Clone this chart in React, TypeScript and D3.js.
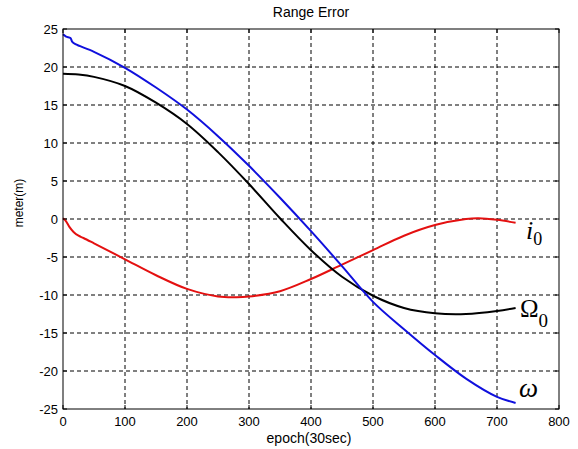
import React from "react";
import * as d3 from "d3";

const xTicks = [0, 100, 200, 300, 400, 500, 600, 700, 800];
const yTicks = [25, 20, 15, 10, 5, 0, -5, -10, -15, -20, -25];

const omegaEpoch = [0, 5, 12, 15, 20, 50, 100, 150, 200, 250, 300, 350, 400, 450, 500, 550, 600, 650, 700, 730];
const omegaVal = [24.3, 24.0, 23.8, 23.3, 23.0, 22.0, 19.9, 17.3, 14.4, 10.9, 7.0, 2.8, -1.6, -6.2, -10.9, -14.5, -17.9, -21.0, -23.4, -24.2];

const bigOmegaEpoch = [0, 25, 50, 100, 150, 200, 250, 300, 350, 400, 450, 500, 550, 600, 650, 700, 730];
const bigOmegaVal = [19.1, 19.0, 18.7, 17.5, 15.3, 12.5, 8.8, 4.6, 0.1, -4.1, -7.6, -10.1, -11.7, -12.4, -12.5, -12.1, -11.7];

const incEpoch = [0, 5, 10, 17, 25, 33, 50, 100, 150, 200, 250, 280, 300, 350, 400, 450, 500, 550, 600, 650, 670, 700, 730];
const incVal = [0.1, -0.3, -1.0, -1.7, -2.2, -2.5, -3.2, -5.3, -7.4, -9.2, -10.2, -10.3, -10.2, -9.5, -7.9, -6.0, -4.1, -2.2, -0.8, 0.0, 0.1, -0.1, -0.5];

const W = 578, H = 449;
const L = 63, R = 559, T = 29, B = 409;
const SANS = "Arial, 'Liberation Sans', sans-serif";
const SERIF = "'Liberation Serif', 'Times New Roman', serif";

export default function App() {
  const x = d3.scaleLinear().domain([0, 800]).range([L, R]);
  const y = d3.scaleLinear().domain([-25, 25]).range([B, T]);
  const line = (ep: number[], v: number[]) =>
    d3.line<number>().x((_, i) => x(ep[i])).y((d) => y(d)).curve(d3.curveCatmullRom.alpha(0.5))(v) || "";

  const series = [
    { ep: incEpoch, v: incVal, c: "#e41010" },
    { ep: bigOmegaEpoch, v: bigOmegaVal, c: "#000000" },
    { ep: omegaEpoch, v: omegaVal, c: "#1010dd" },
  ];

  return (
    <svg width={W} height={H} style={{ position: "absolute", left: 0, top: 0, background: "#fff" }}>
      <rect x={0} y={0} width={W} height={H} fill="#fff" />
      {xTicks.slice(1, -1).map((t) => (
        <line key={"gx" + t} x1={x(t)} x2={x(t)} y1={T} y2={B} stroke="#000" strokeWidth={1} strokeDasharray="4,3" />
      ))}
      {yTicks.slice(1, -1).map((t) => (
        <line key={"gy" + t} x1={L} x2={R} y1={y(t)} y2={y(t)} stroke="#000" strokeWidth={1} strokeDasharray="4,3" />
      ))}
      {series.map((s, i) => (
        <path key={i} d={line(s.ep, s.v)} fill="none" stroke={s.c} strokeWidth={2} />
      ))}
      <rect x={L} y={T} width={R - L} height={B - T} fill="none" stroke="#000" strokeWidth={1} />
      {xTicks.map((t) => (
        <g key={"tx" + t}>
          <line x1={x(t)} x2={x(t)} y1={B} y2={B - 4} stroke="#000" />
          <line x1={x(t)} x2={x(t)} y1={T} y2={T + 4} stroke="#000" />
        </g>
      ))}
      {yTicks.map((t) => (
        <g key={"ty" + t}>
          <line x1={L} x2={L + 4} y1={y(t)} y2={y(t)} stroke="#000" />
          <line x1={R} x2={R - 4} y1={y(t)} y2={y(t)} stroke="#000" />
        </g>
      ))}
      {xTicks.map((t) => (
        <text key={"lx" + t} x={x(t)} y={B + 17} textAnchor="middle" fontFamily={SANS} fontSize={13} fill="#000">
          {t}
        </text>
      ))}
      {yTicks.map((t) => (
        <text key={"ly" + t} x={L - 5} y={y(t) + 5} textAnchor="end" fontFamily={SANS} fontSize={13} fill="#000">
          {t}
        </text>
      ))}
      <text x={311} y={17} textAnchor="middle" fontFamily={SANS} fontSize={14} fill="#000">
        Range Error
      </text>
      <text x={309} y={443} textAnchor="middle" fontFamily={SANS} fontSize={14} fill="#000">
        epoch(30sec)
      </text>
      <text transform="translate(23,203) rotate(-90)" textAnchor="middle" fontFamily={SANS} fontSize={12} fill="#000">
        meter(m)
      </text>
      <text x={526} y={239} fontFamily={SERIF} fontStyle="italic" fontSize={26} fill="#000">
        i
        <tspan dy={6} fontStyle="normal" fontSize={18}>0</tspan>
      </text>
      <text x={520} y={317} fontFamily={SERIF} fontSize={25} fill="#000">
        Ω
        <tspan dy={10} fontSize={19}>0</tspan>
      </text>
      <text x={519} y={397} fontFamily={SERIF} fontStyle="italic" fontSize={27} fill="#000">
        ω
      </text>
    </svg>
  );
}
